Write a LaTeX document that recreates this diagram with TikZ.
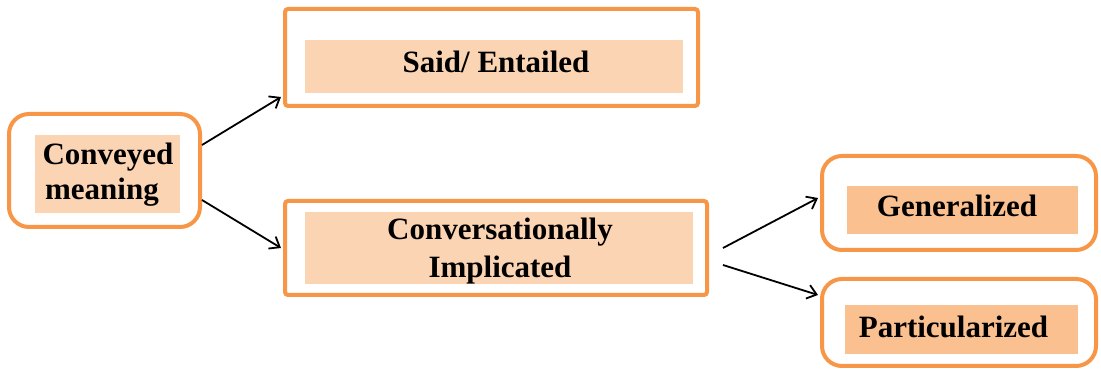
\documentclass[tikz,border=0pt]{standalone}
\usepackage{fontspec}
\setmainfont{Liberation Serif}
\usetikzlibrary{arrows.meta}
\definecolor{obord}{HTML}{F79646}
\definecolor{pfill}{HTML}{FBD4B4}
\definecolor{dfill}{HTML}{FAC090}
\tikzset{
  outerbox/.style={draw=obord, line width=4pt, fill=white, inner sep=0pt},
  roundbox/.style={outerbox, rounded corners=20pt},
  squarebox/.style={outerbox, rounded corners=3pt},
  innerbox/.style={inner sep=0pt},
  txt/.style={inner sep=0pt, anchor=base, font=\fontsize{31}{36}\selectfont\bfseries},
  conn/.style={line width=1.8pt, -{Straight Barb[length=9pt,width=14pt,line width=1.8pt]}}
}
\begin{document}
\begin{tikzpicture}[x=1pt,y=1pt]
\useasboundingbox (0,0) rectangle (1101,371);
% outer boxes
\node[roundbox, minimum width=191pt, minimum height=113pt] (cm) at (104.5,200.5) {};
\node[squarebox, minimum width=413pt, minimum height=97pt] (said) at (491.5,313.5) {};
\node[squarebox, minimum width=422pt, minimum height=94pt] (conv) at (496,123) {};
\node[roundbox, minimum width=274pt, minimum height=94pt] (gen) at (959,168) {};
\node[roundbox, minimum width=274pt, minimum height=87pt] (part) at (959,48.5) {};
% inner fills
\node[innerbox, fill=pfill, minimum width=145pt, minimum height=78pt] (cmi) at (107.5,197) {};
\node[innerbox, fill=pfill, minimum width=378pt, minimum height=53pt] (saidi) at (494,304.5) {};
\node[innerbox, fill=pfill, minimum width=388pt, minimum height=72pt] (convi) at (499,123) {};
\node[innerbox, fill=dfill, minimum width=231pt, minimum height=48pt] (geni) at (962.5,161) {};
\node[innerbox, fill=dfill, minimum width=233pt, minimum height=49pt] (parti) at (961.5,41.5) {};
% texts
\node[txt] (t1) at (108,206) {Conveyed};
\node[txt] (t2) at (102,171) {meaning};
\node[txt] (t3) at (496,298) {Said/ Entailed};
\node[txt] (t4) at (500,131) {Conversationally};
\node[txt] (t5) at (500,93) {Implicated};
\node[txt] (t6) at (957,154) {Generalized};
\node[txt] (t7) at (953.5,33) {Particularized};
% connectors
\draw[conn] ([yshift=25.5pt]cm.east) -- ([yshift=-39.5pt,xshift=-2pt]said.west);
\draw[conn] ([yshift=-29.5pt]cm.east) -- ([xshift=-2pt]conv.west);
\coordinate (c1) at ([xshift=14pt]conv.east);
\coordinate (c2) at ([xshift=14pt,yshift=-17pt]conv.east);
\draw[conn] (c1) -- ([yshift=5pt,xshift=-2pt]gen.west);
\draw[conn] (c2) -- ([yshift=27.5pt,xshift=-2pt]part.west);
\end{tikzpicture}
\end{document}
